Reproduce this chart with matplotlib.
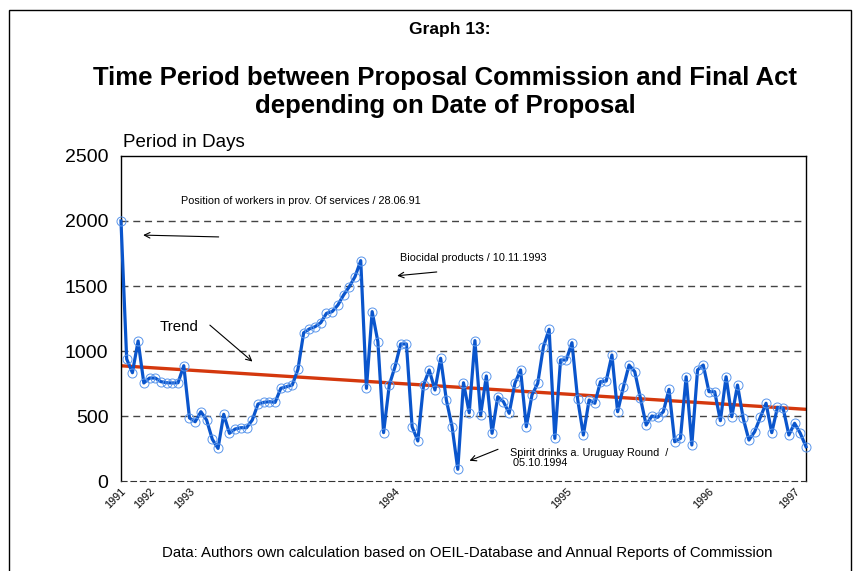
import numpy as np
import matplotlib
matplotlib.use("Agg")
import matplotlib.pyplot as plt
from matplotlib.patches import Rectangle

# Period in days for each proposal, in order of date of proposal
days = [2000, 938, 833, 1077, 754, 792, 792, 764, 756, 754,
        756, 887, 485, 456, 533, 469, 321, 251, 513, 367,
        400, 410, 410, 469, 592, 605, 610, 605, 713, 725,
        738, 859, 1140, 1170, 1187, 1218, 1290, 1303, 1354, 1431,
        1495, 1572, 1695, 713, 1303, 1072, 372, 738, 879, 1054,
        1054, 418, 308, 738, 854, 700, 944, 623, 418, 90,
        756, 525, 1080, 508, 808, 367, 648, 610, 521, 751,
        854, 418, 662, 751, 1033, 1167, 328, 931, 931, 1064,
        628, 354, 623, 598, 764, 769, 969, 533, 721, 892,
        841, 636, 431, 500, 490, 533, 705, 302, 328, 802,
        277, 854, 892, 687, 687, 464, 802, 495, 738, 482,
        315, 379, 490, 598, 372, 567, 559, 354, 444, 367,
        264]

year_labels = ['1991', '1992', '1993', '1994', '1995', '1996', '1997']
year_pos = [0, 5, 12, 48, 78, 103, 118]

y_ticks = [0, 500, 1000, 1500, 2000, 2500]

plt.rcParams['font.family'] = ['Liberation Sans', 'DejaVu Sans']

fig = plt.figure(figsize=(8.58, 5.71), dpi=100)
ax = fig.add_axes([0.141, 0.1576, 0.7984, 0.5692])

x = np.arange(len(days))

# linear trend (least squares, like the spreadsheet trend line)
k, b = np.polyfit(x, days, 1)
ax.plot(x, k * x + b, color='#D4380D', lw=2.4, zorder=2, solid_capstyle='butt')

ax.plot(x, days, color='#0A55CC', lw=2.3, marker='o', markersize=6.5,
        markerfacecolor='none', markeredgecolor='#5A96EC', markeredgewidth=0.7,
        zorder=3, clip_on=False)

ax.set_xlim(0, len(days) - 1)
ax.set_ylim(0, 2500)
ax.set_yticks(y_ticks)
ax.tick_params(axis='y', length=0, pad=9, labelsize=14)
ax.set_xticks(year_pos)
ax.set_xticklabels(year_labels, rotation=45, ha='right', va='top',
                   rotation_mode='anchor', fontsize=7.8)
ax.tick_params(axis='x', length=0, pad=4)

for v in y_ticks[1:-1]:
    ax.axhline(v, color='#444444', lw=1, ls=(0, (5, 3.5)), zorder=1)

for s in ['left', 'right', 'top']:
    ax.spines[s].set_color('black')
    ax.spines[s].set_linewidth(1)
ax.spines['bottom'].set_linestyle((0, (5, 3.5)))
ax.spines['bottom'].set_color('#333333')

# annotations
ax.annotate('Position of workers in prov. Of services / 28.06.91',
            xy=(10.6, 2154), fontsize=7.8, va='center', ha='left')
ax.annotate('', xy=(3.4, 1892), xytext=(17.6, 1877),
            arrowprops=dict(arrowstyle='->', color='black', lw=0.8))

ax.annotate('Biocidal products / 10.11.1993',
            xy=(48.9, 1715), fontsize=7.8, va='center', ha='left')
ax.annotate('', xy=(47.9, 1577), xytext=(55.8, 1610),
            arrowprops=dict(arrowstyle='->', color='black', lw=0.8))

ax.annotate('Trend', xy=(6.7, 1185), fontsize=10.8, va='center', ha='left')
ax.annotate('', xy=(23.4, 905), xytext=(15.2, 1213),
            arrowprops=dict(arrowstyle='->', color='black', lw=0.8))

ax.annotate('Spirit drinks a. Uruguay Round  /\n 05.10.1994',
            xy=(68.2, 177), fontsize=7.8, va='center', ha='left', linespacing=1.1)
ax.annotate('', xy=(60.6, 148), xytext=(66.5, 252),
            arrowprops=dict(arrowstyle='->', color='black', lw=0.8))

# figure texts
fig.text(0.5245, 0.9475, 'Graph 13:', fontsize=12.5, fontweight='bold',
         ha='center', va='center')
fig.text(0.5187, 0.839,
         'Time Period between Proposal Commission and Final Act\ndepending on Date of Proposal',
         fontsize=18.5, fontweight='bold', ha='center', va='center', linespacing=1.17)
fig.text(0.1434, 0.7513, 'Period in Days', fontsize=13.5, ha='left', va='center')
fig.text(0.544, 0.0315,
         'Data: Authors own calculation based on OEIL-Database and Annual Reports of Commission',
         fontsize=10.8, ha='center', va='center')

fig.add_artist(Rectangle((9 / 858, -0.1), 842 / 858, (561 / 571) + 0.1,
                         transform=fig.transFigure, fill=False,
                         edgecolor='black', lw=1))

fig.savefig('out.png', dpi=100)
